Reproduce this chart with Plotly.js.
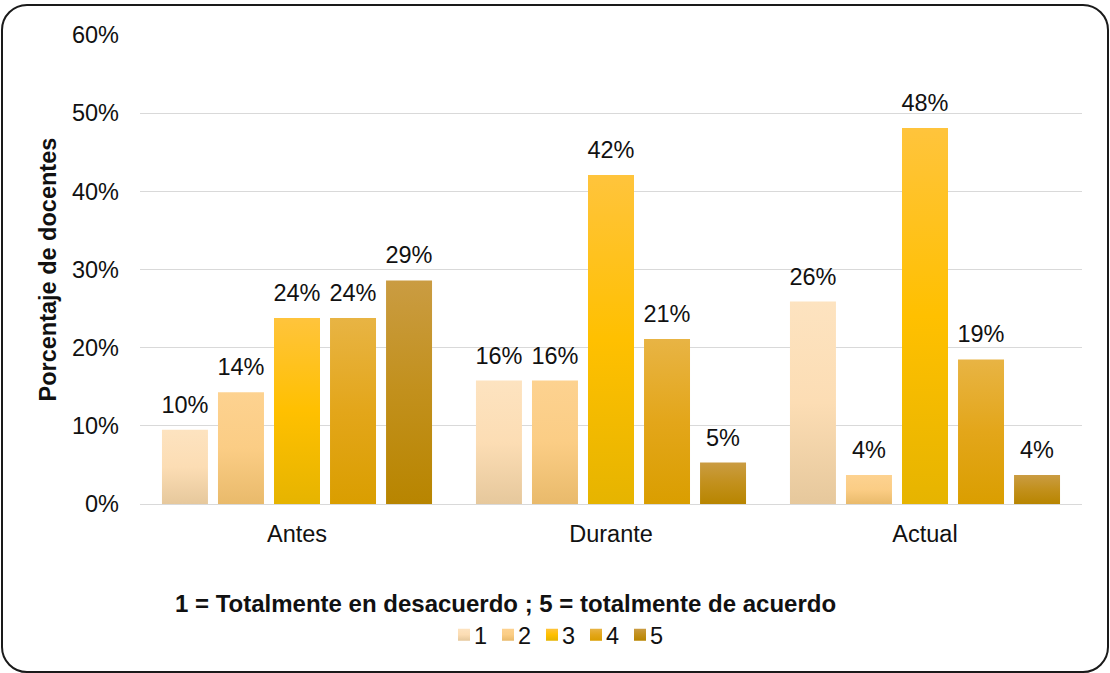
<!DOCTYPE html>
<html>
<head>
<meta charset="utf-8">
<script src="https://cdn.plot.ly/plotly-3.0.1.min.js"></script>
<style>
  html, body { margin: 0; padding: 0; background: #fff; }
  #frame { position: absolute; left: 1px; top: 4px; width: 1104px; height: 665px;
           border: 2px solid #1a1a1a; border-radius: 26px; box-sizing: content-box; }
  #chart { position: absolute; left: 0; top: 0; width: 1110px; height: 673px; }
</style>
</head>
<body>
<div id="frame"></div>
<div id="chart"></div>
<script>
const categories = ['Antes', 'Durante', 'Actual'];
const seriesNames = ['1', '2', '3', '4', '5'];
const s1 = [9.5, 15.8, 25.9];
const s2 = [14.3, 15.8, 3.7];
const s3 = [23.8, 42.1, 48.1];
const s4 = [23.8, 21.1, 18.5];
const s5 = [28.6, 5.3, 3.7];
const seriesValues = [s1, s2, s3, s4, s5];
const yTickVals = [0, 10, 20, 30, 40, 50, 60];
const yTickText = ['0%', '10%', '20%', '30%', '40%', '50%', '60%'];

const baseColors = ['#FCDDB4', '#FBCD85', '#FFC000', '#E3A61A', '#C2901C'];
const gradStops = [
  ['#FDE3C0', '#FCDDB4', '#E6C89C'],
  ['#FDD290', '#FBCD85', '#E9BA6B'],
  ['#FFC43C', '#FFC000', '#E6B400'],
  ['#E8B444', '#E3A61A', '#DA9E00'],
  ['#CA9C42', '#C2901C', '#B88500']
];

const font = 'Liberation Sans, Arial, sans-serif';
const fs = 23.5;

const traces = seriesValues.map((vals, i) => ({
  type: 'bar',
  name: seriesNames[i],
  x: categories,
  y: vals,
  text: vals.map(v => Math.round(v) + '%'),
  textposition: 'outside',
  constraintext: 'none',
  textfont: { family: font, size: fs, color: '#111111' },
  cliponaxis: false,
  marker: { color: baseColors[i], line: { width: 0 } },
  hoverinfo: 'skip'
}));

const layout = {
  width: 1110, height: 673,
  paper_bgcolor: 'rgba(0,0,0,0)',
  plot_bgcolor: 'rgba(0,0,0,0)',
  margin: { l: 140, r: 28, t: 35, b: 169 },
  barmode: 'group',
  bargap: 0.108,
  bargroupgap: 0.179,
  font: { family: font, size: fs, color: '#111111' },
  xaxis: {
    tickfont: { family: font, size: fs, color: '#111111' },
    showline: true, linecolor: '#D9D9D9', linewidth: 1,
    ticks: '', ticklabelstandoff: 9, showgrid: false
  },
  yaxis: {
    range: [0, 60],
    tickvals: yTickVals, ticktext: yTickText,
    tickfont: { family: font, size: fs, color: '#111111' },
    gridcolor: '#D9D9D9', gridwidth: 1,
    zeroline: false, showline: false, ticks: '',
    ticklabelstandoff: 20
  },
  showlegend: true,
  legend: {
    orientation: 'h', x: 0.447, xanchor: 'center', y: -0.279, yanchor: 'middle',
    font: { family: font, size: fs, color: '#111111' },
    itemwidth: 30, traceorder: 'normal', bgcolor: 'rgba(0,0,0,0)'
  },
  annotations: [
    {
      text: '<b>Porcentaje de docentes</b>', textangle: -90,
      xref: 'paper', yref: 'paper', x: -0.0987, y: 0.5,
      xanchor: 'center', yanchor: 'middle', showarrow: false,
      font: { family: font, size: fs, color: '#111111' }
    },
    {
      text: '<b>1 = Totalmente en desacuerdo ; 5 = totalmente de acuerdo</b>',
      xref: 'paper', yref: 'paper', x: 0.3875, y: -0.213,
      xanchor: 'center', yanchor: 'middle', showarrow: false,
      font: { family: font, size: 24, color: '#111111' }
    }
  ]
};

Plotly.newPlot('chart', traces, layout, { displayModeBar: false, staticPlot: true }).then(gd => {
  const svg = gd.querySelector('svg.main-svg');
  const NS = 'http://www.w3.org/2000/svg';
  let defs = svg.querySelector('defs');
  if (!defs) { defs = document.createElementNS(NS, 'defs'); svg.insertBefore(defs, svg.firstChild); }
  gradStops.forEach((stops, i) => {
    const lg = document.createElementNS(NS, 'linearGradient');
    lg.setAttribute('id', 'barGrad' + i);
    lg.setAttribute('x1', '0'); lg.setAttribute('y1', '0');
    lg.setAttribute('x2', '0'); lg.setAttribute('y2', '1');
    [0, 0.5, 1].forEach((off, k) => {
      const st = document.createElementNS(NS, 'stop');
      st.setAttribute('offset', off);
      st.setAttribute('stop-color', stops[k]);
      lg.appendChild(st);
    });
    defs.appendChild(lg);
  });
  gd.querySelectorAll('g.barlayer g.trace').forEach((g, i) => {
    g.querySelectorAll('path').forEach(p => p.style.setProperty('fill', 'url(#barGrad' + i + ')'));
    g.querySelectorAll('text.bartext').forEach(t => {
      const tr = t.getAttribute('transform') || '';
      t.setAttribute('transform', 'translate(0,-9) ' + tr);
    });
  });
  // compact legend: swatch then label close together, 44px pitch
  const items = gd.querySelectorAll('g.legend g.traces');
  items.forEach((g, i) => {
    g.querySelectorAll('g.legendpoints path').forEach(p => p.style.setProperty('fill', 'url(#barGrad' + i + ')'));
    const tr = g.getAttribute('transform') || '';
    const m = tr.match(/translate\(\s*([-\d.]+)[ ,]+([-\d.]+)/);
    const y = m ? parseFloat(m[2]) : 0;
    g.setAttribute('transform', 'translate(' + (i * 44) + ',' + y + ')');
    const t = g.querySelector('text.legendtext');
    if (t) t.setAttribute('x', '30');
  });
  if (items.length) {
    const sw = items[0].querySelector('g.legendpoints path');
    if (sw) {
      const r = sw.getBoundingClientRect();
      const leg = gd.querySelector('g.legend');
      const tr = leg.getAttribute('transform') || '';
      const m = tr.match(/translate\(\s*([-\d.]+)[ ,]+([-\d.]+)/);
      if (m) {
        const nx = parseFloat(m[1]) + (458 - r.left);
        leg.setAttribute('transform', 'translate(' + nx + ',' + m[2] + ')');
      }
    }
  }
});
</script>
</body>
</html>
